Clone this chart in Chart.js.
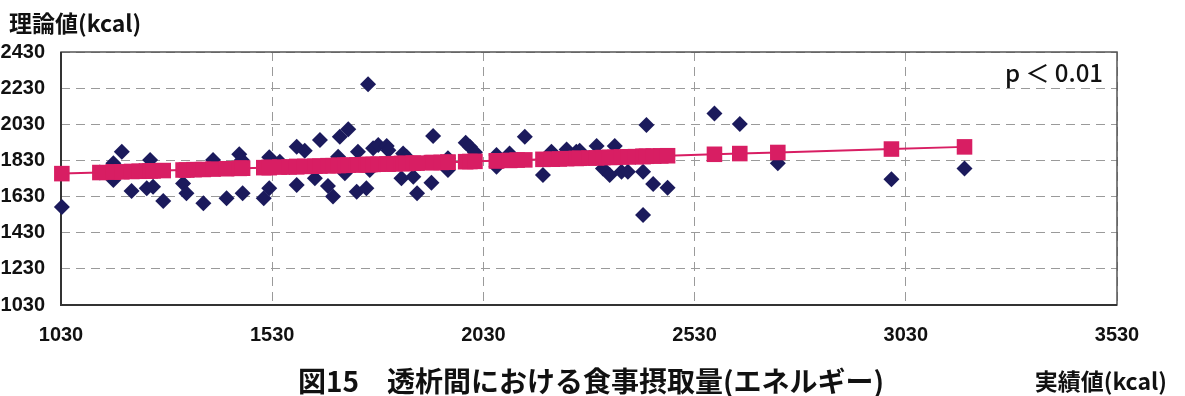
<!DOCTYPE html>
<html>
<head>
<meta charset="utf-8">
<script src="https://cdn.jsdelivr.net/npm/chart.js@4/dist/chart.umd.min.js"></script>
<style>
  html, body { margin: 0; padding: 0; background: #fff; }
  #wrap { width: 1185px; height: 396px; position: relative; }
</style>
</head>
<body>
<div id="wrap"><canvas id="c"></canvas></div>
<script>
// 実績値 (actual intake, kcal) — sorted ascending
const actualKcal = [
  1032, 1122, 1154, 1154, 1174, 1197, 1215, 1233, 1241, 1248,
  1272, 1319, 1327, 1345, 1367, 1390, 1422, 1452, 1458, 1460,
  1510, 1523, 1523, 1548, 1570, 1588, 1588, 1607, 1631, 1643,
  1662, 1674, 1686, 1690, 1702, 1710, 1730, 1733, 1753, 1757,
  1761, 1769, 1781, 1801, 1805, 1820, 1836, 1840, 1848, 1864,
  1873, 1907, 1911, 1930, 1946, 1946, 1988, 1998, 2010, 2061,
  2061, 2092, 2110, 2128, 2171, 2191, 2210, 2227, 2250, 2258,
  2280, 2298, 2313, 2329, 2341, 2357, 2372, 2390, 2408, 2408,
  2416, 2432, 2450, 2466, 2577, 2637, 2727, 2996, 3169
];

// 理論値 (theoretical requirement, kcal) for each patient
const theoryKcal = [
  1572, 1763, 1814, 1722, 1878, 1661, 1770, 1676, 1832, 1685,
  1606, 1703, 1648, 1779, 1593, 1832, 1621, 1864, 1832, 1648,
  1621, 1676, 1847, 1823, 1794, 1906, 1694, 1884, 1731, 1943,
  1689, 1630, 1850, 1961, 1759, 2002, 1657, 1878, 1676, 2252,
  1777, 1897, 1915, 1910, 1887, 1812, 1731, 1869, 1850, 1740,
  1648, 1707, 1965, 1819, 1842, 1777, 1928, 1906, 1875, 1860,
  1795, 1869, 1832, 1961, 1749, 1878, 1838, 1891, 1878, 1884,
  1843, 1910, 1786, 1749, 1910, 1768, 1768, 1851, 1768, 1528,
  2026, 1700, 1855, 1679, 2090, 2031, 1814, 1726, 1786
];

// Regression (fitted) values at each actual intake
const fittedKcal = [
  1757, 1763, 1766, 1766, 1767, 1769, 1770, 1771, 1772, 1772,
  1774, 1777, 1777, 1779, 1780, 1782, 1784, 1786, 1787, 1787,
  1790, 1791, 1791, 1793, 1794, 1796, 1796, 1797, 1798, 1799,
  1801, 1801, 1802, 1803, 1803, 1804, 1805, 1806, 1807, 1807,
  1807, 1808, 1809, 1810, 1810, 1812, 1813, 1813, 1813, 1815,
  1815, 1818, 1818, 1819, 1820, 1820, 1823, 1824, 1825, 1828,
  1828, 1830, 1832, 1833, 1836, 1837, 1838, 1840, 1841, 1842,
  1843, 1844, 1846, 1847, 1847, 1849, 1850, 1851, 1852, 1852,
  1853, 1854, 1855, 1856, 1864, 1868, 1874, 1893, 1905
];

const xTicks = [1030, 1530, 2030, 2530, 3030, 3530];
const yTicks = [1030, 1230, 1430, 1630, 1830, 2030, 2230, 2430];

const yTitle = '理論値(kcal)';
const xTitle = '実績値(kcal)';
const figTitle = '図15\u3000透析間における食事摂取量(エネルギー)';
const pNote = 'p \uFF1C 0.01';

const NAVY = '#1b1a5c';
const PINK = '#d81e63';
const TICK_FONT = { family: "'Liberation Sans Narrow', 'Liberation Sans', Arial, sans-serif", size: 20, weight: 'bold' };
const JP_FONT = "'Noto Sans CJK JP', 'Noto Sans', sans-serif";

const frame = {
  id: 'frame',
  beforeDatasetsDraw(chart) {
    const { ctx, chartArea: a } = chart;
    ctx.save();
    ctx.strokeStyle = '#555';
    ctx.lineWidth = 1.5;
    ctx.strokeRect(a.left, a.top, a.right - a.left, a.bottom - a.top);
    ctx.strokeStyle = '#333';
    ctx.lineWidth = 2;
    ctx.beginPath();
    ctx.moveTo(a.left, a.top);
    ctx.lineTo(a.left, a.bottom);
    ctx.lineTo(a.right, a.bottom);
    ctx.stroke();
    ctx.restore();
  },
  afterDraw(chart) {
    const { ctx, chartArea: a } = chart;
    ctx.save();
    ctx.fillStyle = '#111';
    ctx.textBaseline = 'middle';
    ctx.font = 'bold 23px ' + JP_FONT;
    ctx.textAlign = 'left';
    ctx.fillText(yTitle, 9, 23);
    ctx.font = 'bold 28px ' + JP_FONT;
    ctx.textAlign = 'center';
    ctx.fillText(figTitle, 591, 381);
    ctx.font = 'bold 23px ' + JP_FONT;
    ctx.textAlign = 'right';
    ctx.fillText(xTitle, 1167, 381);
    ctx.font = '500 24px ' + JP_FONT;
    ctx.textAlign = 'right';
    ctx.fillText(pNote, a.right - 14, a.top + 21);
    ctx.restore();
  }
};

const gridStyle = {
  color: '#9a9a9a',
  lineWidth: 1,
  drawTicks: false
};

const plain = v => String(v);

new Chart(document.getElementById('c'), {
  data: {
    datasets: [
      {
        type: 'line',
        label: '回帰',
        data: actualKcal.map((x, i) => ({ x, y: fittedKcal[i] })),
        borderColor: PINK,
        backgroundColor: PINK,
        borderWidth: 2,
        pointStyle: 'rect',
        pointRadius: 11,
        pointBorderWidth: 0,
        pointHoverRadius: 11,
        tension: 0,
        clip: false,
        order: 0
      },
      {
        type: 'scatter',
        label: '理論値',
        data: actualKcal.map((x, i) => ({ x, y: theoryKcal[i] })),
        backgroundColor: NAVY,
        borderColor: NAVY,
        pointStyle: 'rectRot',
        pointRadius: 8,
        pointBorderWidth: 0,
        pointHoverRadius: 8,
        clip: false,
        order: 1
      }
    ]
  },
  options: {
    responsive: true,
    maintainAspectRatio: false,
    animation: false,
    events: [],
    layout: { padding: { left: 0, right: 68, top: 52, bottom: 46 } },
    plugins: {
      legend: { display: false },
      tooltip: { enabled: false },
      title: { display: false }
    },
    scales: {
      x: {
        type: 'linear',
        min: 1030,
        max: 3530,
        afterBuildTicks: s => { s.ticks = xTicks.map(v => ({ value: v })); },
        afterFit: s => { s.height = 45; },
        ticks: { font: TICK_FONT, color: '#111', padding: 18, maxRotation: 0, callback: plain },
        grid: gridStyle,
        border: { display: false, dash: [9, 6] }
      },
      y: {
        type: 'linear',
        min: 1030,
        max: 2430,
        afterBuildTicks: s => { s.ticks = yTicks.map(v => ({ value: v })); },
        afterFit: s => { s.width = 61; },
        ticks: { font: TICK_FONT, color: '#111', padding: 16, callback: plain },
        grid: gridStyle,
        border: { display: false, dash: [9, 6] }
      }
    }
  },
  plugins: [frame]
});
</script>
</body>
</html>
